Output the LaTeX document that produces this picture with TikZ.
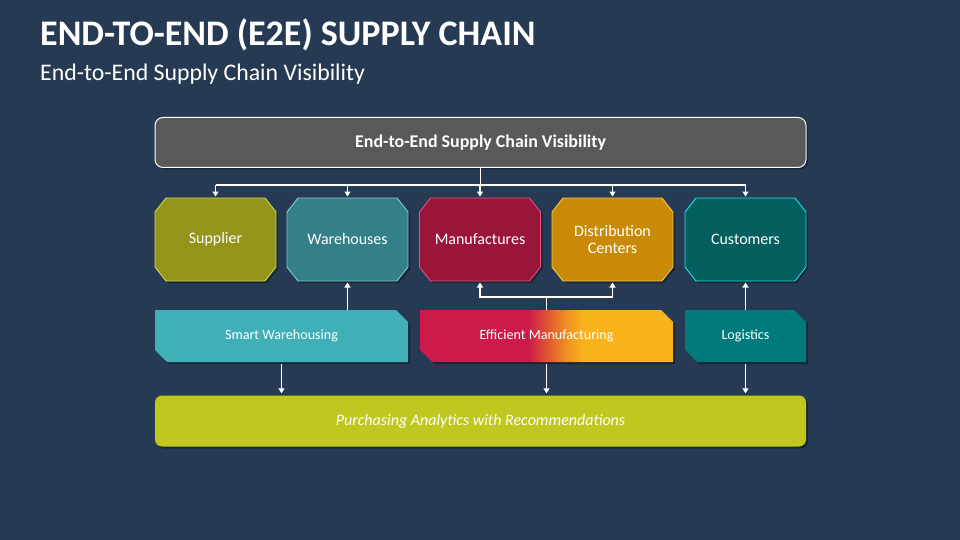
\documentclass[tikz,border=0pt]{standalone}
\usepackage{fontspec}
\setmainfont{Carlito}
\usetikzlibrary{shapes.misc,arrows.meta,shadows}
\pgfdeclarelayer{bgl}
\pgfdeclarelayer{background}
\pgfsetlayers{bgl,background,main}
\definecolor{bg}{HTML}{263A54}
\definecolor{visfill}{HTML}{595959}
\definecolor{supfill}{HTML}{94941A}
\definecolor{supline}{HTML}{D8D848}
\definecolor{warfill}{HTML}{348088}
\definecolor{warline}{HTML}{80CCD2}
\definecolor{manfill}{HTML}{99153A}
\definecolor{manline}{HTML}{E8507E}
\definecolor{disfill}{HTML}{C98A08}
\definecolor{disline}{HTML}{F4C452}
\definecolor{cusfill}{HTML}{035E5E}
\definecolor{cusline}{HTML}{1CE4EC}
\definecolor{swfill}{HTML}{41AFB8}
\definecolor{logfill}{HTML}{007A7A}
\definecolor{pafill}{HTML}{BFC81F}
\definecolor{mred}{HTML}{CC1B4B}
\definecolor{mmid}{HTML}{E2642C}
\definecolor{mora}{HTML}{F09024}
\definecolor{myel}{HTML}{F8B41A}
\pgfdeclarehorizontalshading{mfgshade}{100bp}{color(0bp)=(mred); color(46.5bp)=(mred); color(51bp)=(mmid); color(54bp)=(mora); color(57.5bp)=(myel); color(100bp)=(myel)}
\tikzset{
  shad/.style={drop shadow={shadow xshift=2pt, shadow yshift=-2pt, opacity=0.35, fill=black}},
  octbox/.style={rectangle, minimum width=121pt, minimum height=83pt, inner sep=0pt, outer sep=0pt, align=center,
     text=white, font=\fontsize{16}{18.5}\selectfont},
  octline/.style={line width=0.9pt, shad},
  midbox/.style={chamfered rectangle, chamfered rectangle corners={north east, south west},
     chamfered rectangle xsep=6pt, chamfered rectangle ysep=6pt,
     minimum height=52pt, inner sep=0pt, text=white, font=\fontsize{14.1}{16}\selectfont, shad},
  arr/.style={draw=white, line width=1.4pt, -{Triangle[length=5pt,width=6pt]}},
  ln/.style={draw=white, line width=1.4pt},
}
\newcommand\octshape[3]{%
  \begin{pgfonlayer}{background}
  \draw[octline, fill=#2, draw=#3] ([xshift=11pt]#1.north west) -- ([xshift=-11pt]#1.north east)
    -- ([yshift=-14pt]#1.north east) -- ([yshift=14pt]#1.south east)
    -- ([xshift=-11pt]#1.south east) -- ([xshift=11pt]#1.south west)
    -- ([yshift=14pt]#1.south west) -- ([yshift=-14pt]#1.north west) -- cycle;
  \end{pgfonlayer}}
\begin{document}
\begin{tikzpicture}[x=1pt,y=-1pt]
\begin{pgfonlayer}{bgl}
\fill[bg] (0,0) rectangle (960,540);
\end{pgfonlayer}
\useasboundingbox (0,0) rectangle (960,540);
\node[anchor=base west, text=white, inner sep=0pt, font=\fontsize{36}{42}\selectfont\bfseries] (title) at (40,46) {END-TO-END (E2E) SUPPLY CHAIN};
\node[anchor=base west, text=white, inner sep=0pt, font=\fontsize{23.8}{28}\selectfont] (sub) at (40,81) {End-to-End Supply Chain Visibility};

\node[draw=white, line width=1pt, fill=visfill, rounded corners=8pt, minimum width=651pt, minimum height=50pt,
   text=white, font=\fontsize{17.9}{20}\selectfont\bfseries, shad] (vis) at (480.5,142.5) {End-to-End Supply Chain Visibility};

\node[octbox] (sup) at (215.5,239.5) {Supplier};
\node[octbox] (war) at (347.5,239.5) {Warehouses};
\node[octbox] (man) at (480,239.5) {Manufactures};
\node[octbox] (dis) at (612.5,239.5) {Distribution\\[-1pt]Centers};
\node[octbox] (cus) at (745.5,239.5) {Customers};
\octshape{sup}{supfill}{supline}
\octshape{war}{warfill}{warline}
\octshape{man}{manfill}{manline}
\octshape{dis}{disfill}{disline}
\octshape{cus}{cusfill}{cusline}

\node[midbox, fill=swfill, minimum width=253pt] (sw) at (281.5,336) {Smart Warehousing};
\node[midbox, shading=mfgshade, minimum width=253pt] (em) at (546.5,336) {Efficient Manufacturing};
\node[midbox, fill=logfill, minimum width=121pt] (log) at (745.5,336) {Logistics};

\node[fill=pafill, rounded corners=7pt, minimum width=651pt, minimum height=51pt, text=white,
   font=\fontsize{16}{18}\selectfont\itshape, shad] (pa) at (480.5,421) {Purchasing Analytics with Recommendations};

% top bus
\draw[ln] (vis.south) -- ++(0,17) coordinate (bus);
\draw[ln] (sup.north |- bus) -- (cus.north |- bus);
\foreach \n in {sup,war,man,dis,cus}{
  \draw[arr, shorten >=1.5pt] (\n.north |- bus) -- (\n.north);
}
% up arrows
\draw[arr, shorten >=1.5pt] (war.south |- sw.north) -- (war.south);
\draw[ln] (em.north) -- ++(0,-13) coordinate (j);
\draw[arr, shorten >=1.5pt] (j) -| (man.south);
\draw[arr, shorten >=1.5pt] (j) -| (dis.south);
\draw[arr, shorten >=1.5pt] (cus.south |- log.north) -- (cus.south);
% down arrows
\foreach \n in {sw,em,log}{
  \draw[arr, shorten <=2pt, shorten >=2pt] (\n.south) -- (\n.south |- pa.north);
}
\end{tikzpicture}
\end{document}
